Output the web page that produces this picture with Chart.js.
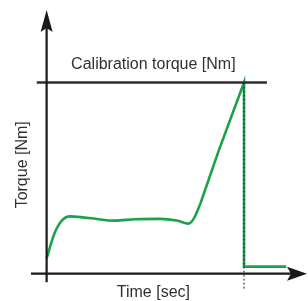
<!DOCTYPE html>
<html>
<head>
<meta charset="utf-8">
<script src="https://cdn.jsdelivr.net/npm/chart.js@4"></script>
<style>
    html, body { margin: 0; padding: 0; background: #fff; }
    #wrap { width: 308px; height: 301px; }
</style>
</head>
<body>
<div id="wrap"><canvas id="torqueChart"></canvas></div>
<script>
// time axis in arbitrary units (0..100), torque in % of calibration torque
const rampTime = [0, 3, 6, 9, 14, 20, 26, 34, 43.5, 50, 54.5, 56.5, 59];
const rampTorque = [8, 21, 28, 30, 29.5, 28.5, 27.8, 28.5, 28.7, 27.8, 26.2, 28.8, 36.5];

const peakTime = [59, 66, 75.8, 75.8, 92];
const peakTorque = [36.5, 64, 100, 3.7, 3.7];

const calibrationTime = [-3.8, 84.6];
const calibrationTorque = [100, 100];

const markerTime = [75.8, 75.8];
const markerTorque = [100, -8];

const xTitle = "Time [sec]";
const yTitle = "Torque [Nm]";
const calibrationLabel = "Calibration torque [Nm]";

const green = "#1ba24c";
const ink = "#1a1a1a";

function toPoints(xs, ys) {
    return xs.map((x, i) => ({ x: x, y: ys[i] }));
}

const axesPlugin = {
    id: "arrowAxes",
    afterDatasetsDraw(chart) {
        const ctx = chart.ctx;
        const xs = chart.scales.x;
        const ys = chart.scales.y;
        const x0 = xs.getPixelForValue(0);
        const y0 = ys.getPixelForValue(0);

        ctx.save();
        ctx.strokeStyle = ink;
        ctx.fillStyle = ink;
        ctx.lineWidth = 2.2;

        // y axis
        const yTop = ys.getPixelForValue(ys.max);
        ctx.beginPath();
        ctx.moveTo(x0, ys.getPixelForValue(-4.5));
        ctx.lineTo(x0, yTop + 12);
        ctx.stroke();
        ctx.beginPath();
        ctx.moveTo(x0, yTop);
        ctx.lineTo(x0 - 6, yTop + 22);
        ctx.lineTo(x0, yTop + 18);
        ctx.lineTo(x0 + 6, yTop + 22);
        ctx.closePath();
        ctx.fill();

        // x axis
        const xRight = xs.getPixelForValue(xs.max);
        ctx.beginPath();
        ctx.moveTo(xs.getPixelForValue(xs.min), y0);
        ctx.lineTo(xRight - 12, y0);
        ctx.stroke();
        ctx.beginPath();
        ctx.moveTo(xRight, y0);
        ctx.lineTo(xRight - 20, y0 - 7);
        ctx.lineTo(xRight - 16, y0);
        ctx.lineTo(xRight - 20, y0 + 7);
        ctx.closePath();
        ctx.fill();

        // texts
        ctx.fillStyle = "#303030";
        ctx.font = "16px 'Liberation Sans', Arial, sans-serif";
        ctx.textAlign = "center";
        ctx.textBaseline = "middle";
        ctx.fillText(calibrationLabel, xs.getPixelForValue(41), ys.getPixelForValue(109.5));
        ctx.fillText(xTitle, xs.getPixelForValue(41), 293);
        ctx.translate(23, ys.getPixelForValue(57));
        ctx.rotate(-Math.PI / 2);
        ctx.fillText(yTitle, 0, 0);
        ctx.restore();
    }
};

new Chart(document.getElementById("torqueChart"), {
    type: "line",
    data: {
        datasets: [
            {
                data: toPoints(calibrationTime, calibrationTorque),
                borderColor: "#2e2e2e",
                borderWidth: 2.5,
                pointRadius: 0,
                tension: 0,
            },
            {
                data: toPoints(markerTime, markerTorque),
                borderColor: ink,
                borderWidth: 1,
                borderDash: [2, 2],
                pointRadius: 0,
                tension: 0,
            },
            {
                data: toPoints(rampTime, rampTorque),
                borderColor: green,
                borderWidth: 2.6,
                pointRadius: 0,
                cubicInterpolationMode: "monotone",
            },
            {
                data: toPoints(peakTime, peakTorque),
                borderColor: green,
                borderWidth: 2.6,
                pointRadius: 0,
                tension: 0,
            },
        ],
    },
    options: {
        responsive: true,
        maintainAspectRatio: false,
        animation: false,
        layout: { padding: { left: 31, top: 10, right: 1, bottom: 12 } },
        plugins: {
            legend: { display: false },
            tooltip: { enabled: false },
        },
        scales: {
            x: { type: "linear", min: -6, max: 100, display: false },
            y: { type: "linear", min: -8, max: 138, display: false },
        },
    },
    plugins: [axesPlugin],
});
</script>
</body>
</html>
